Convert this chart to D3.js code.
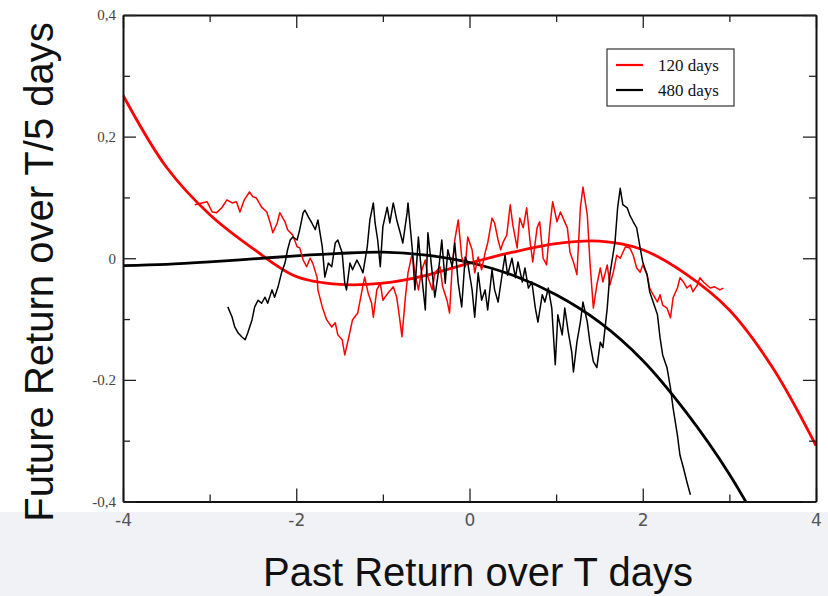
<!DOCTYPE html>
<html>
<head>
<meta charset="utf-8">
<script src="https://cdn.jsdelivr.net/npm/d3@7"></script>
<style>
  html, body { margin: 0; padding: 0; background: #ffffff; }
  svg { display: block; }
</style>
</head>
<body>
<svg id="chart" width="828" height="596"></svg>
<script>
// Past return (x) vs future return (y), two horizons

const xTicks = [-4, -2, 0, 2, 4];
const xTickLabels = ["-4", "-2", "0", "2", "4"];
const xMinorTicks = [-3, -1, 1, 3];
const yTicks = [-0.4, -0.2, 0, 0.2, 0.4];
const yTickLabels = ["-0,4", "-0.2", "0", "0,2", "0,4"];
const yMinorTicks = [-0.3, -0.1, 0.1, 0.3];

const seriesNames = ["120 days", "480 days"];
const seriesColors = ["#ff0000", "#000000"];

// Fitted trend curves
const fitX = [-4, -3.5, -3, -2.5, -2, -1.5, -1, -0.5, 0, 0.5, 1, 1.5, 2, 2.5, 3, 3.5, 4];
const fit120 = [0.268, 0.15, 0.072, 0.016, -0.030, -0.043, -0.041, -0.028, -0.008, 0.010, 0.024, 0.028, 0.014, -0.026, -0.085, -0.18, -0.308];
const fit480 = [-0.012, -0.010, -0.006, -0.001, 0.004, 0.008, 0.010, 0.005, -0.007, -0.028, -0.060, -0.105, -0.168, -0.253, -0.355, -0.48, -0.62];

// Empirical 120-day curve
const emp120X = [-3.17, -3.09, -3.03, -2.97, -2.92, -2.86, -2.80, -2.74, -2.69, -2.65, -2.60, -2.54, -2.50, -2.46, -2.40, -2.34, -2.30, -2.27, -2.22, -2.19, -2.13, -2.10, -2.04, -1.99, -1.96, -1.92, -1.88, -1.84, -1.81, -1.76, -1.75, -1.70, -1.65, -1.59, -1.55, -1.52, -1.47, -1.44, -1.40, -1.35, -1.29, -1.24, -1.21, -1.17, -1.13, -1.11, -1.07, -1.03, -1.00, -0.94, -0.88, -0.84, -0.80, -0.78, -0.74, -0.71, -0.66, -0.63, -0.59, -0.55, -0.51, -0.48, -0.43, -0.40, -0.34, -0.31, -0.26, -0.23, -0.20, -0.17, -0.13, -0.09, -0.05, -0.02, 0.03, 0.06, 0.10, 0.14, 0.18, 0.21, 0.26, 0.29, 0.33, 0.36, 0.39, 0.43, 0.47, 0.50, 0.55, 0.58, 0.62, 0.66, 0.70, 0.73, 0.78, 0.81, 0.85, 0.89, 0.93, 0.96, 1.01, 1.05, 1.08, 1.13, 1.16, 1.20, 1.24, 1.28, 1.31, 1.36, 1.39, 1.43, 1.47, 1.51, 1.54, 1.59, 1.62, 1.66, 1.70, 1.74, 1.80, 1.85, 1.89, 1.93, 1.97, 2.00, 2.05, 2.08, 2.12, 2.17, 2.20, 2.23, 2.28, 2.32, 2.35, 2.40, 2.43, 2.47, 2.51, 2.55, 2.58, 2.63, 2.66, 2.70, 2.74, 2.78, 2.83, 2.89, 2.93];
const emp120Y = [0.088, 0.091, 0.093, 0.076, 0.075, 0.083, 0.096, 0.091, 0.093, 0.076, 0.096, 0.109, 0.101, 0.099, 0.084, 0.076, 0.058, 0.042, 0.058, 0.075, 0.060, 0.047, 0.038, 0.019, 0.017, -0.003, -0.014, 0.000, -0.008, -0.031, -0.052, -0.080, -0.101, -0.113, -0.106, -0.126, -0.134, -0.159, -0.134, -0.101, -0.090, -0.052, -0.031, -0.057, -0.074, -0.097, -0.052, -0.041, -0.069, -0.057, -0.047, -0.064, -0.106, -0.129, -0.064, -0.024, 0.009, -0.024, -0.052, -0.019, -0.003, -0.031, -0.052, -0.024, -0.014, -0.047, -0.069, -0.090, -0.014, 0.030, 0.063, 0.002, -0.014, 0.035, 0.014, -0.024, 0.002, -0.019, 0.009, 0.025, 0.066, 0.058, 0.030, 0.014, 0.027, 0.038, 0.088, 0.055, 0.017, 0.066, 0.050, 0.083, 0.027, -0.006, 0.050, 0.060, 0.000, -0.011, 0.055, 0.093, 0.060, 0.076, 0.066, 0.050, 0.010, -0.006, -0.027, 0.083, 0.117, 0.071, -0.006, -0.082, -0.044, -0.016, -0.039, -0.011, -0.044, -0.023, 0.005, 0.000, 0.019, 0.017, 0.005, -0.016, -0.023, -0.011, -0.027, -0.049, -0.060, -0.072, -0.060, -0.077, -0.082, -0.098, -0.065, -0.049, -0.032, -0.039, -0.049, -0.044, -0.055, -0.044, -0.032, -0.039, -0.044, -0.049, -0.047, -0.052, -0.049];

// Empirical 480-day curve
const emp480X = [-2.79, -2.74, -2.71, -2.67, -2.63, -2.59, -2.56, -2.51, -2.48, -2.44, -2.40, -2.36, -2.33, -2.28, -2.25, -2.21, -2.17, -2.13, -2.10, -2.07, -2.04, -1.99, -1.96, -1.92, -1.90, -1.86, -1.82, -1.78, -1.75, -1.70, -1.67, -1.63, -1.59, -1.55, -1.52, -1.47, -1.44, -1.42, -1.38, -1.35, -1.30, -1.26, -1.23, -1.18, -1.15, -1.11, -1.09, -1.06, -1.03, -1.00, -0.95, -0.92, -0.88, -0.84, -0.80, -0.77, -0.72, -0.71, -0.66, -0.63, -0.59, -0.55, -0.51, -0.48, -0.43, -0.40, -0.36, -0.32, -0.28, -0.25, -0.20, -0.17, -0.13, -0.09, -0.05, -0.02, 0.03, 0.06, 0.10, 0.14, 0.18, 0.21, 0.26, 0.29, 0.33, 0.38, 0.41, 0.44, 0.49, 0.53, 0.56, 0.61, 0.64, 0.68, 0.72, 0.76, 0.79, 0.84, 0.87, 0.91, 0.95, 0.99, 1.02, 1.07, 1.10, 1.14, 1.18, 1.20, 1.24, 1.28, 1.31, 1.36, 1.39, 1.43, 1.47, 1.51, 1.54, 1.59, 1.62, 1.68, 1.71, 1.74, 1.77, 1.82, 1.85, 1.89, 1.93, 1.97, 2.00, 2.05, 2.08, 2.12, 2.17, 2.20, 2.23, 2.28, 2.32, 2.35, 2.40, 2.43, 2.47, 2.51, 2.55];
const emp480Y = [-0.080, -0.097, -0.113, -0.123, -0.129, -0.134, -0.123, -0.101, -0.080, -0.069, -0.074, -0.064, -0.074, -0.052, -0.064, -0.047, -0.024, -0.008, 0.014, 0.030, 0.035, 0.030, 0.047, 0.075, 0.079, 0.068, 0.058, 0.047, 0.063, 0.019, -0.031, -0.008, -0.014, 0.025, 0.030, 0.009, -0.041, -0.052, -0.008, -0.019, -0.003, -0.014, -0.024, 0.019, 0.063, 0.091, 0.058, 0.030, -0.014, 0.052, 0.084, 0.058, 0.091, 0.063, 0.042, 0.025, 0.075, 0.091, 0.014, -0.052, 0.035, -0.031, -0.085, 0.042, -0.024, -0.064, -0.024, 0.030, -0.041, 0.014, -0.014, 0.025, -0.041, -0.080, 0.002, -0.008, -0.052, -0.097, -0.024, -0.069, -0.052, -0.085, -0.019, -0.052, -0.072, -0.023, 0.005, -0.028, 0.000, -0.032, -0.006, -0.039, -0.016, -0.049, -0.039, -0.082, -0.105, -0.060, -0.072, -0.049, -0.082, -0.175, -0.093, -0.126, -0.082, -0.121, -0.154, -0.187, -0.138, -0.105, -0.072, -0.105, -0.138, -0.170, -0.180, -0.138, -0.147, -0.082, -0.027, 0.027, 0.083, 0.115, 0.088, 0.083, 0.071, 0.060, 0.050, 0.017, -0.006, -0.027, -0.055, -0.072, -0.093, -0.131, -0.159, -0.180, -0.213, -0.246, -0.291, -0.324, -0.345, -0.368, -0.389];

const svg = d3.select("#chart");
const W = 828, H = 596;
const plot = { left: 123, right: 816, top: 15, bottom: 501.5 };

// slide backdrop below the plot
svg.append("rect").attr("x", 0).attr("y", 0).attr("width", W).attr("height", H).attr("fill", "#ffffff");
svg.append("rect").attr("x", 0).attr("y", 512).attr("width", W).attr("height", H - 512).attr("fill", "#f0f2f5");

const x = d3.scaleLinear().domain([-4, 4]).range([plot.left, plot.right]);
const y = d3.scaleLinear().domain([-0.4, 0.4]).range([plot.bottom, plot.top]);

svg.append("defs").append("clipPath").attr("id", "plotClip")
  .append("rect")
  .attr("x", plot.left).attr("y", plot.top)
  .attr("width", plot.right - plot.left).attr("height", plot.bottom - plot.top);

const layer = svg.append("g").attr("clip-path", "url(#plotClip)");

const line = d3.line().x(d => x(d[0])).y(d => y(d[1]));
const smooth = d3.line().x(d => x(d[0])).y(d => y(d[1])).curve(d3.curveCatmullRom.alpha(0.5));

function pairs(xs, ys) { return xs.map((v, i) => [v, ys[i]]); }

// fitted curves
layer.append("path").datum(pairs(fitX, fit120)).attr("d", smooth)
  .attr("fill", "none").attr("stroke", seriesColors[0]).attr("stroke-width", 2.8);
layer.append("path").datum(pairs(fitX, fit480)).attr("d", smooth)
  .attr("fill", "none").attr("stroke", seriesColors[1]).attr("stroke-width", 2.8);

// empirical curves
layer.append("path").datum(pairs(emp120X, emp120Y)).attr("d", line)
  .attr("fill", "none").attr("stroke", seriesColors[0]).attr("stroke-width", 1.5)
  .attr("stroke-linejoin", "round");
layer.append("path").datum(pairs(emp480X, emp480Y)).attr("d", line)
  .attr("fill", "none").attr("stroke", seriesColors[1]).attr("stroke-width", 1.5)
  .attr("stroke-linejoin", "round");

// axes: ticks point inward on all four sides
const major = 13, minor = 7;
function styleAxis(g) {
  g.select(".domain").attr("stroke", "#111").attr("stroke-width", 2);
  g.selectAll(".tick line").attr("stroke", "#222").attr("stroke-width", 1.3);
}
function minorStyle(g) {
  g.select(".domain").remove();
  g.selectAll(".tick line").attr("stroke", "#222").attr("stroke-width", 1.3);
}

const xAxisB = svg.append("g").attr("transform", `translate(0,${plot.bottom})`)
  .call(d3.axisBottom(x).tickValues(xTicks).tickSizeInner(-major).tickSizeOuter(0).tickPadding(9)
    .tickFormat((d, i) => xTickLabels[i]));
styleAxis(xAxisB);
xAxisB.selectAll(".tick text").attr("font-family", "'DejaVu Sans', sans-serif").attr("font-size", 17)
  .attr("fill", "#555").attr("dy", "0.9em");

svg.append("g").attr("transform", `translate(0,${plot.bottom})`)
  .call(d3.axisBottom(x).tickValues(xMinorTicks).tickSizeInner(-minor).tickSizeOuter(0).tickFormat(""))
  .call(minorStyle);

const xAxisT = svg.append("g").attr("transform", `translate(0,${plot.top})`)
  .call(d3.axisTop(x).tickValues(xTicks).tickSizeInner(-major).tickSizeOuter(0).tickFormat(""));
styleAxis(xAxisT);
svg.append("g").attr("transform", `translate(0,${plot.top})`)
  .call(d3.axisTop(x).tickValues(xMinorTicks).tickSizeInner(-minor).tickSizeOuter(0).tickFormat(""))
  .call(minorStyle);

const yAxisL = svg.append("g").attr("transform", `translate(${plot.left},0)`)
  .call(d3.axisLeft(y).tickValues(yTicks).tickSizeInner(-major).tickSizeOuter(0).tickPadding(7)
    .tickFormat((d, i) => yTickLabels[i]));
styleAxis(yAxisL);
yAxisL.selectAll(".tick text").attr("font-family", "'Liberation Serif', serif").attr("font-size", 15)
  .attr("fill", "#444");

svg.append("g").attr("transform", `translate(${plot.left},0)`)
  .call(d3.axisLeft(y).tickValues(yMinorTicks).tickSizeInner(-minor).tickSizeOuter(0).tickFormat(""))
  .call(minorStyle);

const yAxisR = svg.append("g").attr("transform", `translate(${plot.right},0)`)
  .call(d3.axisRight(y).tickValues(yTicks).tickSizeInner(-major).tickSizeOuter(0).tickFormat(""));
styleAxis(yAxisR);
svg.append("g").attr("transform", `translate(${plot.right},0)`)
  .call(d3.axisRight(y).tickValues(yMinorTicks).tickSizeInner(-minor).tickSizeOuter(0).tickFormat(""))
  .call(minorStyle);

// axis titles
svg.append("text")
  .attr("x", 478).attr("y", 586)
  .attr("text-anchor", "middle")
  .attr("font-family", "'Liberation Sans', Arial, sans-serif")
  .attr("font-size", 40).attr("fill", "#111")
  .text("Past Return over T days");

svg.append("text")
  .attr("transform", "translate(53,272) rotate(-90)")
  .attr("text-anchor", "middle")
  .attr("font-family", "'Liberation Sans', Arial, sans-serif")
  .attr("font-size", 40).attr("fill", "#111")
  .text("Future Return over T/5 days");

// legend
const legend = svg.append("g").attr("transform", "translate(607,49)");
legend.append("rect").attr("x", 0).attr("y", 0).attr("width", 127).attr("height", 57)
  .attr("fill", "#fff").attr("stroke", "#333").attr("stroke-width", 1.2);
seriesNames.forEach((name, i) => {
  const row = legend.append("g").attr("transform", `translate(0,${16 + i * 25})`);
  row.append("line").attr("x1", 9).attr("x2", 36).attr("y1", 0).attr("y2", 0)
    .attr("stroke", seriesColors[i]).attr("stroke-width", 2.2);
  row.append("text").attr("x", 51).attr("y", 0).attr("dy", "0.35em")
    .attr("font-family", "'Liberation Serif', serif").attr("font-size", 17).attr("fill", "#111")
    .text(name);
});
</script>
</body>
</html>
